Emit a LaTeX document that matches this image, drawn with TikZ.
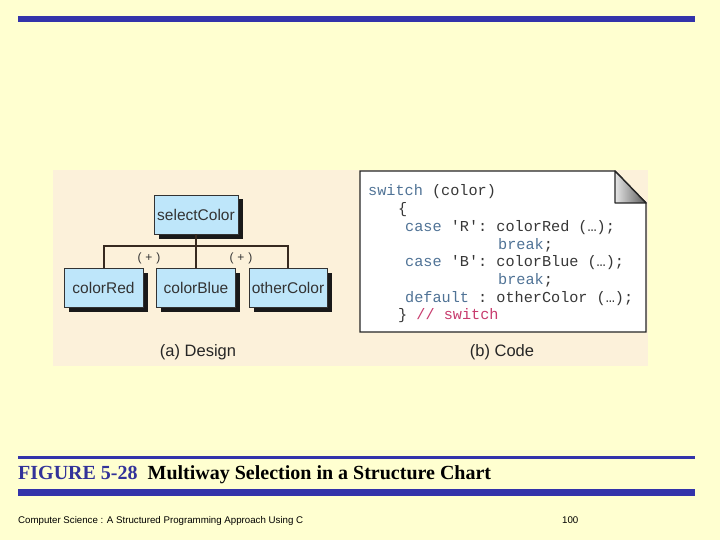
\documentclass[tikz,border=0pt]{standalone}
\usepackage{fontspec}
\setmainfont{Liberation Serif}
\setsansfont{Liberation Sans}
\setmonofont{Liberation Mono}
\usepackage{xcolor}
\usetikzlibrary{math, shadows}
\definecolor{slidebg}{RGB}{255,255,208}
\definecolor{panelbg}{RGB}{252,241,218}
\definecolor{barblue}{RGB}{51,51,170}
\definecolor{capblue}{RGB}{51,51,153}
\definecolor{boxblue}{RGB}{190,230,250}
\definecolor{linebrown}{RGB}{55,42,32}
\definecolor{kwblue}{RGB}{80,115,150}
\definecolor{codegray}{RGB}{55,55,55}
\definecolor{cmtred}{RGB}{200,60,110}

\begin{document}
\begin{tikzpicture}[x=1pt, y=-1pt,
  chartbox/.style={draw=black!80, line width=0.8pt, fill=boxblue, inner sep=0pt,
    minimum width=79pt, minimum height=39pt, text=black!80,
    font=\sffamily\fontsize{15.5}{15.5}\selectfont,
    general shadow={fill=black!90, shadow xshift=4.5pt, shadow yshift=-4.5pt}},
  chartline/.style={draw=linebrown, line width=2pt},
  plusmark/.style={inner sep=0pt, text=black!80, font=\sffamily\fontsize{12}{12}\selectfont},
  sublabel/.style={inner sep=0pt, text=black!85, font=\sffamily\fontsize{16.5}{16.5}\selectfont},
  codeline/.style={anchor=base west, inner sep=0pt, text=codegray, font=\ttfamily\fontsize{15.2}{15.2}\selectfont}]
\tikzmath{
\yone=196;
\dy=17.7;
\xin=405;
\xbrk=498;
}
%slide
\useasboundingbox (0,0) rectangle (720,540);
\fill[slidebg] (0,0) rectangle (720,540);
\fill[barblue] (18,16) rectangle (695,22.5);
\fill[barblue] (18,456) rectangle (695,458.5);
\fill[barblue] (18,489) rectangle (695,495.5);
%figure panel
\fill[panelbg] (53,170) rectangle (648,366);

%structure chart
\node[chartbox, minimum width=84pt] (select) at (196,214.5) {selectColor};
\node[chartbox] (red) at (103.5,287.5) {colorRed};
\node[chartbox] (blue) at (196,287.5) {colorBlue};
\node[chartbox, minimum width=78pt] (other) at (288,287.5) {otherColor};
\draw[chartline] (select.south) -- (blue.north);
\draw[chartline] (red.north) -- ++(0,-22) -| (other.north);
\node[plusmark] (plusred) at (149,258) {(\,\,+\,\,)};
\node[plusmark] (plusother) at (241,258) {(\,\,+\,\,)};
\node[sublabel] (design) at (198,352) {(a) Design};

%code page
\draw[line width=1.4pt, draw=black!85, fill=white]
  (360,171) -- (615,171) -- (646,203) -- (646,332) -- (360,332) -- cycle;
\shade[left color=black!10, right color=black!65] (615,171) -- (646,203) -- (615,203) -- cycle;
\draw[line width=1.4pt, draw=black!85, line join=round] (615,171) -- (646,203) -- (615,203) -- cycle;
\node[codeline] (c1) at (368,\yone) {\textcolor{kwblue}{switch} (color)};
\node[codeline] (c2) at (398,\yone+\dy) {\{};
\node[codeline] (c3) at (\xin,\yone+2*\dy) {\textcolor{kwblue}{case} {\char"27}R{\char"27}: colorRed (…);};
\node[codeline] (c4) at (\xbrk,\yone+3*\dy) {\textcolor{kwblue}{break};};
\node[codeline] (c5) at (\xin,\yone+4*\dy) {\textcolor{kwblue}{case} {\char"27}B{\char"27}: colorBlue (…);};
\node[codeline] (c6) at (\xbrk,\yone+5*\dy) {\textcolor{kwblue}{break};};
\node[codeline] (c7) at (\xin,\yone+6*\dy) {\textcolor{kwblue}{default} : otherColor (…);};
\node[codeline] (c8) at (398,\yone+7*\dy) {\} \textcolor{cmtred}{// switch}};
\node[sublabel] (code) at (502,352) {(b) Code};

%caption and footer
\node[anchor=base west, inner sep=0pt, font=\rmfamily\bfseries\fontsize{20}{20}\selectfont] (figcap)
  at (18,479) {\textcolor{capblue}{FIGURE 5-28}\hspace{10pt}Multiway Selection in a Structure Chart};
\node[anchor=base west, inner sep=0pt, font=\sffamily\fontsize{9.7}{9.7}\selectfont] (footer)
  at (18,523) {Computer Science : A Structured Programming Approach Using C};
\node[anchor=base west, inner sep=0pt, font=\sffamily\fontsize{9.7}{9.7}\selectfont] (pagenum)
  at (562,523) {100};
\end{tikzpicture}
\end{document}
